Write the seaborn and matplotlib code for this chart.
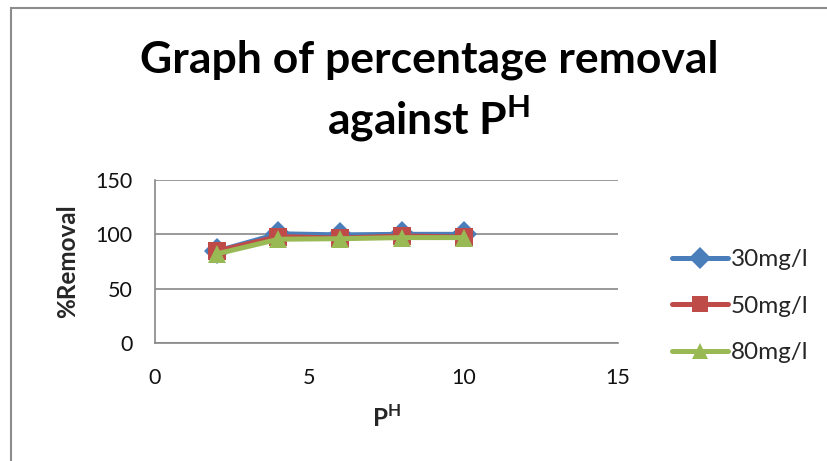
import matplotlib
matplotlib.use("Agg")
import matplotlib.pyplot as plt
import seaborn as sns
import pandas as pd
from matplotlib.patches import Rectangle

ph = [2, 4, 6, 8, 10]
series_names = ["30mg/l", "50mg/l", "80mg/l"]
removal_30 = [84.5, 100.5, 99.5, 100, 100]
removal_50 = [84.5, 98, 96.5, 98.5, 97.5]
removal_80 = [82, 95.5, 96, 97, 97]
x_ticks = [0, 5, 10, 15]
y_ticks = [0, 50, 100, 150]

sns.set_theme(style="white")
plt.rcParams["font.family"] = ["Lato", "DejaVu Sans"]
plt.rcParams["mathtext.fontset"] = "custom"
plt.rcParams["mathtext.bf"] = "Lato:bold"
plt.rcParams["mathtext.rm"] = "Lato"

df = pd.DataFrame({
    "pH": ph * 3,
    "removal": removal_30 + removal_50 + removal_80,
    "series": [series_names[0]] * 5 + [series_names[1]] * 5 + [series_names[2]] * 5,
})

colors = {"30mg/l": "#4A7EBB", "50mg/l": "#BE4B48", "80mg/l": "#98B954"}
markers = {"30mg/l": "D", "50mg/l": "s", "80mg/l": "^"}

fig = plt.figure(figsize=(8.28, 4.61), dpi=100)
ax = fig.add_axes([155 / 828, 1 - 343 / 461, (618 - 155) / 828, (343 - 180) / 461])

sns.lineplot(data=df, x="pH", y="removal", hue="series", style="series",
             palette=colors, markers=markers, dashes=False, ax=ax,
             linewidth=3.6, markersize=13, markeredgewidth=0, legend=True)

ax.set_xlim(0, 15)
ax.set_ylim(0, 150)
ax.set_xticks(x_ticks)
ax.set_yticks(y_ticks)
ax.tick_params(axis="both", labelsize=15.5, colors="#111111", length=4, width=1,
               direction="out")
ax.tick_params(axis="y", pad=12)
ax.tick_params(axis="x", pad=14)
ax.tick_params(axis="both", color="#888888")
ax.grid(axis="y", color="#888888", linewidth=1.2)
for s in ["top", "right"]:
    ax.spines[s].set_visible(False)
for s in ["left", "bottom"]:
    ax.spines[s].set_color("#888888")
    ax.spines[s].set_linewidth(1.2)

ax.set_xlabel(r"P$^{\mathbf{H}}$", fontsize=17.5, fontweight="bold", labelpad=12)
ax.set_ylabel("%Removal", fontsize=17.5, fontweight="bold", labelpad=12)

leg = ax.legend(loc="center left", bbox_to_anchor=(1.07, 0.225), frameon=False,
                fontsize=17.5, labelspacing=1.05, handlelength=2.3, handletextpad=0.1,
                markerscale=0.9)
for h in leg.legend_handles:
    h.set_linewidth(3.6)

fig.text(429 / 828, 1 - 60 / 461, "Graph of percentage removal",
         ha="center", va="center", fontsize=32, fontweight="bold", color="black")
fig.text(429 / 828, 1 - 119 / 461, r"against P$^{\mathbf{H}}$",
         ha="center", va="center", fontsize=32, fontweight="bold", color="black")

fig.patches.append(Rectangle((10.5 / 828, -0.1), 2.0, (461 - 7.5) / 461 + 0.1,
                             transform=fig.transFigure, fill=False,
                             edgecolor="#8c8c8c", linewidth=1.5))

fig.savefig("out.png", dpi=100)
